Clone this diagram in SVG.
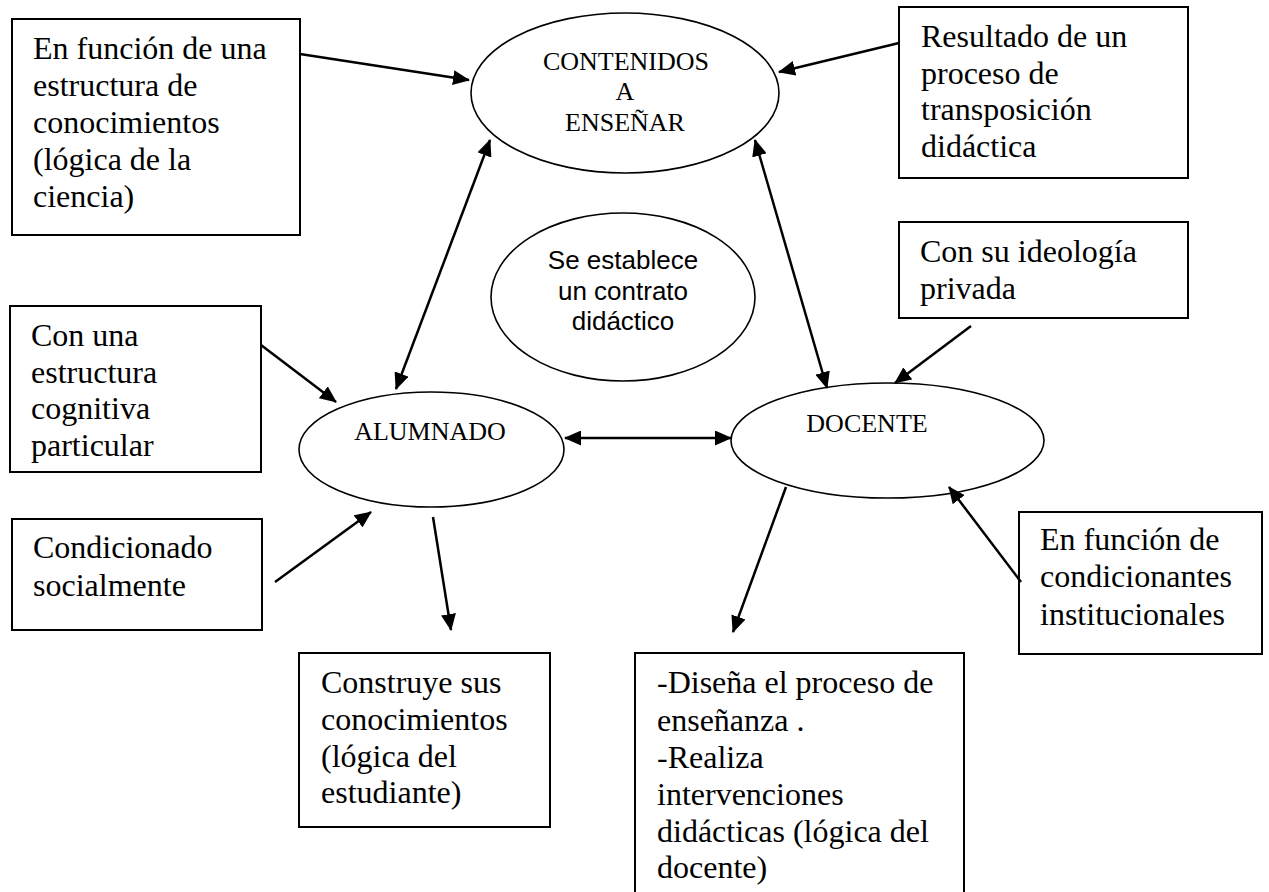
<svg xmlns="http://www.w3.org/2000/svg" width="1269" height="892" viewBox="0 0 1269 892">
<style>
.box{fill:#fff;stroke:#000;stroke-width:2}
.ell{fill:#fff;stroke:#000;stroke-width:1.6}
.t{font-family:"Liberation Serif","Times New Roman",serif;font-size:32px;fill:#000}
.te{font-family:"Liberation Serif","Times New Roman",serif;font-size:26px;fill:#000;text-anchor:middle}
.ta{font-family:"Liberation Sans",Arial,sans-serif;font-size:26px;fill:#000;text-anchor:middle}
.c{stroke:#000;stroke-width:2.5;fill:none;marker-end:url(#ah)}
.cb{stroke:#000;stroke-width:2.5;fill:none;marker-end:url(#ah);marker-start:url(#ah)}
</style>
<defs>
<marker id="ah" viewBox="0 0 17 15" refX="16" refY="7.5" markerWidth="17" markerHeight="15" markerUnits="userSpaceOnUse" orient="auto-start-reverse">
<path d="M0,0 L17,7.5 L0,15 z" fill="#000"/>
</marker>
</defs>
<rect width="1269" height="892" fill="#fff"/>

<g id="n-box1">
<rect class="box" x="12" y="19" width="288" height="216"/>
<text class="t" x="33" y="59">En función de una</text>
<text class="t" x="33" y="96">estructura de</text>
<text class="t" x="33" y="133">conocimientos</text>
<text class="t" x="33" y="170">(lógica de la</text>
<text class="t" x="33" y="207">ciencia)</text>
</g>

<g id="n-contenidos">
<ellipse class="ell" cx="625" cy="93" rx="154" ry="80"/>
<text class="te" x="626" y="70">CONTENIDOS</text>
<text class="te" x="625" y="100">A</text>
<text class="te" x="625" y="131">ENSEÑAR</text>
</g>

<g id="n-resultado">
<rect class="box" x="899" y="7" width="289" height="171"/>
<text class="t" x="921" y="47">Resultado de un</text>
<text class="t" x="921" y="84">proceso de</text>
<text class="t" x="921" y="120">transposición</text>
<text class="t" x="921" y="157">didáctica</text>
</g>

<g id="n-contrato">
<ellipse class="ell" cx="623" cy="297" rx="132" ry="84"/>
<text class="ta" x="623" y="269">Se establece</text>
<text class="ta" x="623" y="300">un contrato</text>
<text class="ta" x="623" y="330">didáctico</text>
</g>

<g id="n-ideologia">
<rect class="box" x="899" y="222" width="289" height="96"/>
<text class="t" x="920" y="262">Con su ideología</text>
<text class="t" x="920" y="299">privada</text>
</g>

<g id="n-cognitiva">
<rect class="box" x="10" y="306" width="251" height="166"/>
<text class="t" x="31" y="346">Con una</text>
<text class="t" x="31" y="383">estructura</text>
<text class="t" x="31" y="419">cognitiva</text>
<text class="t" x="31" y="456">particular</text>
</g>

<g id="n-alumnado">
<ellipse class="ell" cx="431.5" cy="449.5" rx="132.5" ry="57.5"/>
<text class="te" x="430" y="440">ALUMNADO</text>
</g>

<g id="n-docente">
<ellipse class="ell" cx="887.5" cy="440.5" rx="156.5" ry="57.5"/>
<text class="te" x="867" y="432">DOCENTE</text>
</g>

<g id="n-condicionado">
<rect class="box" x="12" y="519" width="250" height="111"/>
<text class="t" x="33" y="558">Condicionado</text>
<text class="t" x="33" y="596">socialmente</text>
</g>

<g id="n-institucionales">
<rect class="box" x="1019" y="512" width="243" height="142"/>
<text class="t" x="1040" y="550">En función de</text>
<text class="t" x="1040" y="587">condicionantes</text>
<text class="t" x="1040" y="625">institucionales</text>
</g>

<g id="n-construye">
<rect class="box" x="299" y="653" width="251" height="174"/>
<text class="t" x="321" y="693">Construye sus</text>
<text class="t" x="321" y="730">conocimientos</text>
<text class="t" x="321" y="767">(lógica del</text>
<text class="t" x="321" y="803">estudiante)</text>
</g>

<g id="n-disena">
<rect class="box" x="635" y="653" width="329" height="260"/>
<text class="t" x="657" y="693">-Diseña el proceso de</text>
<text class="t" x="657" y="731">enseñanza .</text>
<text class="t" x="657" y="768">-Realiza</text>
<text class="t" x="657" y="805">intervenciones</text>
<text class="t" x="657" y="842">didácticas (lógica del</text>
<text class="t" x="657" y="878">docente)</text>
</g>

<g id="connectors">
<line class="c" x1="300" y1="54" x2="469" y2="80"/>
<line class="c" x1="899" y1="43" x2="779" y2="72"/>
<line class="cb" x1="490" y1="140" x2="396" y2="389"/>
<line class="cb" x1="755" y1="140" x2="827" y2="388"/>
<line class="c" x1="261" y1="345" x2="336" y2="402"/>
<line class="c" x1="275" y1="582" x2="371" y2="512"/>
<line class="c" x1="433" y1="517" x2="451" y2="630"/>
<line class="cb" x1="565" y1="438" x2="731" y2="438"/>
<line class="c" x1="971" y1="326" x2="895" y2="383"/>
<line class="c" x1="786" y1="487" x2="733" y2="632"/>
<line class="c" x1="1021" y1="582" x2="949" y2="487"/>
</g>
</svg>
